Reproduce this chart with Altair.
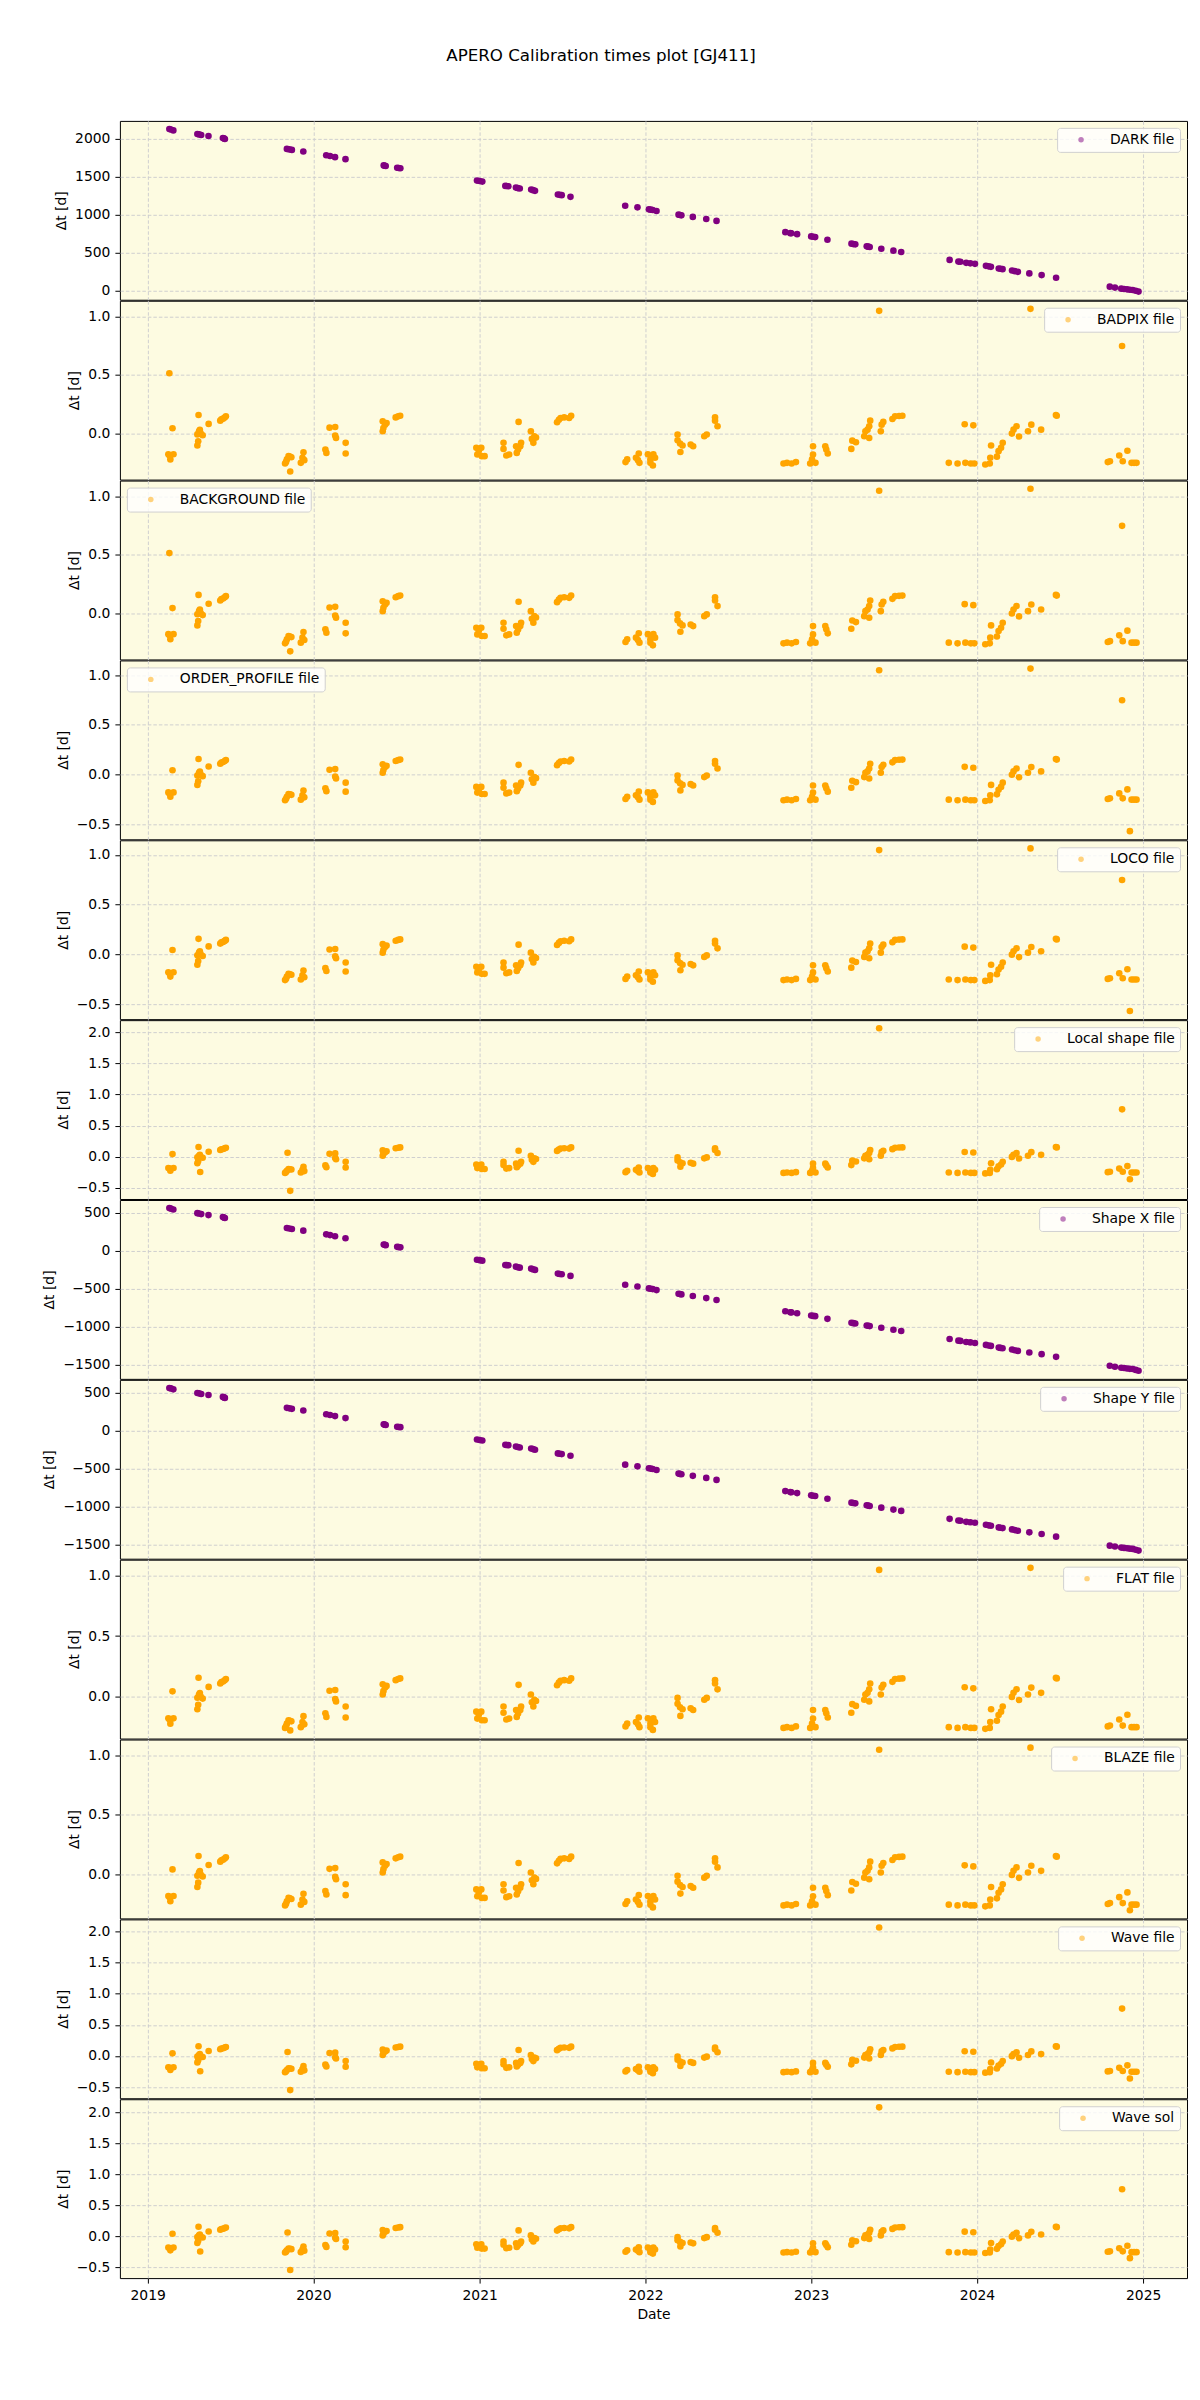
import altair as alt
import pandas as pd

TITLE = "APERO Calibration times plot [GJ411]"
Y_TITLE = "Δt [d]"
X_TITLE = "Date"
YEAR_TICKS = [2019, 2020, 2021, 2022, 2023, 2024, 2025]

# ---- observation dates (decimal years) used by the DARK / Shape panels
cal_dates = [2019.131, 2019.140, 2019.155, 2019.300, 2019.310, 2019.323, 2019.367, 2019.454, 2019.460, 2019.466,
             2019.840, 2019.855, 2019.870, 2019.939, 2020.077, 2020.100, 2020.130, 2020.193,
             2020.423, 2020.429, 2020.435, 2020.504, 2020.513, 2020.523,
             2020.984, 2021.000, 2021.016, 2021.155, 2021.164, 2021.173, 2021.219, 2021.230, 2021.242,
             2021.311, 2021.322, 2021.334, 2021.472, 2021.483, 2021.495, 2021.548,
             2021.878, 2021.952, 2022.021, 2022.032, 2022.044, 2022.067, 2022.200, 2022.208, 2022.217,
             2022.286, 2022.367, 2022.429,
             2022.844, 2022.874, 2022.880, 2022.915, 2023.000, 2023.012, 2023.024, 2023.098,
             2023.243, 2023.254, 2023.266, 2023.335, 2023.344, 2023.353, 2023.423, 2023.496, 2023.543,
             2023.835, 2023.888, 2023.900, 2023.935, 2023.960, 2023.988, 2024.054, 2024.070, 2024.084,
             2024.131, 2024.142, 2024.154, 2024.211, 2024.228, 2024.246, 2024.315, 2024.389, 2024.476,
             2024.799, 2024.830, 2024.868, 2024.885, 2024.903, 2024.920, 2024.937, 2024.955, 2024.972]

dark_dt = [2131, 2125, 2113, 2065, 2060, 2052, 2039, 2013, 2007, 2000,
           1869, 1862, 1856, 1834, 1785, 1775, 1760, 1734,
           1651, 1647, 1643, 1620, 1617, 1614,
           1451, 1445, 1438, 1381, 1379, 1377, 1359, 1352, 1346,
           1333, 1325, 1316, 1268, 1263, 1259, 1237,
           1120, 1098, 1072, 1068, 1063, 1050, 1002, 998, 993,
           972, 945, 919,
           771, 758, 756, 745, 715, 710, 706, 671,
           619, 614, 610, 584, 580, 575, 553, 527, 510,
           405, 383, 380, 366, 360, 353, 327, 320, 314,
           292, 288, 283, 266, 257, 248, 227, 205, 170,
           52, 40, 26, 22, 17, 12, 9, -2, -13]

shape_dt = [561, 555, 543, 495, 490, 482, 469, 443, 437, 430,
            299, 292, 286, 264, 215, 205, 190, 164,
            81, 77, 73, 50, 47, 44,
            -119, -125, -132, -189, -191, -193, -211, -218, -224,
            -237, -245, -254, -302, -307, -311, -333,
            -450, -472, -498, -502, -507, -520, -568, -572, -577,
            -598, -625, -651,
            -799, -812, -814, -825, -855, -860, -864, -899,
            -951, -956, -960, -986, -990, -995, -1017, -1043, -1060,
            -1165, -1187, -1190, -1204, -1210, -1217, -1243, -1250, -1256,
            -1278, -1282, -1287, -1304, -1313, -1322, -1343, -1365, -1400,
            -1518, -1530, -1544, -1548, -1553, -1558, -1561, -1572, -1583]

# ---- night calibrations (common to the orange panels)
night_dates = [2019.125, 2019.137, 2019.156, 2019.132, 2019.150,
               2019.307, 2019.300, 2019.310, 2019.320, 2019.332, 2019.305, 2019.300, 2019.315,
               2019.368, 2019.438, 2019.445, 2019.455, 2019.465, 2019.472,
               2019.829, 2019.840, 2019.850, 2019.867, 2019.835, 2019.858,
               2019.924, 2019.934, 2019.940, 2019.945,
               2020.072, 2020.078, 2020.097, 2020.131, 2020.131, 2020.136, 2020.194, 2020.194,
               2020.417, 2020.431, 2020.417, 2020.421, 2020.440, 2020.495, 2020.510, 2020.522,
               2020.980, 2021.010, 2020.986, 2021.013, 2021.030, 2020.995,
               2021.144, 2021.144, 2021.161, 2021.178,
               2021.235, 2021.220, 2021.224, 2021.245, 2021.250, 2021.232,
               2021.309, 2021.315, 2021.330, 2021.324, 2021.340,
               2021.467, 2021.478, 2021.488, 2021.510, 2021.540, 2021.552,
               2021.880, 2021.890, 2021.943, 2021.960, 2021.964, 2021.955,
               2022.015, 2022.030, 2022.040, 2022.048, 2022.045, 2022.030, 2022.058,
               2022.194, 2022.194, 2022.209, 2022.224, 2022.211,
               2022.273, 2022.288, 2022.355, 2022.370, 2022.420, 2022.420, 2022.435,
               2022.833, 2022.854, 2022.882, 2022.908,
               2022.994, 2023.005, 2023.011, 2023.011, 2023.026,
               2023.085, 2023.091, 2023.100,
               2023.242, 2023.248, 2023.270,
               2023.320, 2023.327, 2023.340, 2023.350, 2023.356, 2023.350,
               2023.420, 2023.425, 2023.435, 2023.490, 2023.506, 2023.530, 2023.550,
               2023.830, 2023.883, 2023.930, 2023.963, 2023.984, 2023.926, 2023.978,
               2024.050, 2024.077, 2024.080, 2024.085,
               2024.120, 2024.130, 2024.145, 2024.155,
               2024.210, 2024.220, 2024.238, 2024.253,
               2024.307, 2024.327, 2024.386, 2024.475, 2024.480,
               2024.787, 2024.800, 2024.856, 2024.877, 2024.905, 2024.930, 2024.945, 2024.960]

night_dt = [-0.180, -0.224, -0.180, -0.190, 0.043,
            0.156, -0.010, 0.017, 0.000, -0.017, -0.068, -0.105, 0.030,
            0.080, 0.108, 0.120, 0.125, 0.135, 0.145,
            -0.259, -0.224, -0.196, -0.205, -0.245, -0.200,
            -0.253, -0.210, -0.162, -0.230,
            -0.139, -0.168, 0.048, 0.054, -0.020, -0.040, -0.082, -0.173,
            0.102, 0.074, 0.017, 0.045, 0.088, 0.136, 0.145, 0.150,
            -0.125, -0.125, -0.182, -0.196, -0.196, -0.150,
            -0.082, -0.134, -0.190, -0.182,
            0.097, -0.111, -0.168, -0.111, -0.082, -0.140,
            0.017, -0.048, -0.026, -0.082, -0.037,
            0.094, 0.115, 0.131, 0.136, 0.131, 0.150,
            -0.247, -0.224, -0.210, -0.173, -0.253, -0.230,
            -0.180, -0.224, -0.196, -0.180, -0.276, -0.253, -0.210,
            -0.011, -0.060, -0.088, -0.105, -0.160,
            -0.097, -0.111, -0.026, -0.011, 0.136, 0.108, 0.060,
            -0.259, -0.253, -0.259, -0.247,
            -0.259, -0.224, -0.182, -0.111, -0.253,
            -0.111, -0.139, -0.173,
            -0.134, -0.063, -0.077,
            -0.026, 0.017, 0.031, 0.060, 0.108, -0.040,
            0.017, 0.074, 0.097, 0.122, 0.145, 0.148, 0.150,
            -0.253, -0.259, -0.253, -0.259, -0.259, 0.077, 0.068,
            -0.267, -0.259, -0.210, -0.105,
            -0.200, -0.153, -0.125, -0.082,
            -0.003, 0.031, 0.060, -0.028,
            0.017, 0.074, 0.031, 0.156, 0.150,
            -0.247, -0.240, -0.190, -0.240, -0.150, -0.253, -0.253, -0.253]

# ---- panel-specific extra points (outliers)
badpix_extra_dates = [2019.131, 2019.860, 2023.410, 2024.322, 2024.873]
badpix_extra_dt = [0.514, -0.327, 1.048, 1.065, 0.747]
order_extra_dates = [2023.410, 2024.322, 2024.873, 2024.920]
order_extra_dt = [1.048, 1.065, 0.747, -0.570]
shape_local_extra_dates = [2019.317, 2019.844, 2019.860, 2023.410, 2024.873, 2024.920]
shape_local_extra_dt = [-0.244, 0.064, -0.547, 2.060, 0.760, -0.360]
wave_sol_extra_dates = [2019.317, 2019.844, 2019.860, 2023.410, 2024.873, 2024.920]
wave_sol_extra_dt = [-0.243, 0.063, -0.540, 2.080, 0.760, -0.350]
flat_extra_dates = [2019.860, 2023.410, 2024.322]
flat_extra_dt = [-0.280, 1.048, 1.065]
blaze_extra_dates = [2023.410, 2024.322, 2024.920]
blaze_extra_dt = [1.048, 1.065, -0.300]

labels = ["DARK file", "BADPIX file", "BACKGROUND file", "ORDER_PROFILE file", "LOCO file",
          "Local shape file", "Shape X file", "Shape Y file", "FLAT file", "BLAZE file",
          "Wave file", "Wave sol"]
colors = ["purple", "orange", "orange", "orange", "orange", "orange",
          "purple", "purple", "orange", "orange", "orange", "orange"]
legend_orients = ["top-right", "top-right", "top-left", "top-left", "top-right", "top-right",
                  "top-right", "top-right", "top-right", "top-right", "top-right", "top-right"]
TK_DARK = [0, 500, 1000, 1500, 2000]
TK_SMALL = [0.0, 0.5, 1.0]
TK_MID = [-0.5, 0.0, 0.5, 1.0]
TK_WIDE = [-0.5, 0.0, 0.5, 1.0, 1.5, 2.0]
TK_SHAPE = [-1500, -1000, -500, 0, 500]
y_ticks = [TK_DARK, TK_SMALL, TK_SMALL, TK_MID, TK_MID, TK_WIDE, TK_SHAPE, TK_SHAPE,
           TK_SMALL, TK_SMALL, TK_WIDE, TK_WIDE]
y_formats = ["d", ".1f", ".1f", ".1f", ".1f", ".1f", "d", "d", ".1f", ".1f", ".1f", ".1f"]

panel_data = [
    (cal_dates, dark_dt),
    (night_dates + badpix_extra_dates, night_dt + badpix_extra_dt),
    (night_dates + badpix_extra_dates, night_dt + badpix_extra_dt),
    (night_dates + order_extra_dates, night_dt + order_extra_dt),
    (night_dates + order_extra_dates, night_dt + order_extra_dt),
    (night_dates + shape_local_extra_dates, night_dt + shape_local_extra_dt),
    (cal_dates, shape_dt),
    (cal_dates, shape_dt),
    (night_dates + flat_extra_dates, night_dt + flat_extra_dt),
    (night_dates + blaze_extra_dates, night_dt + blaze_extra_dt),
    (night_dates + shape_local_extra_dates, night_dt + shape_local_extra_dt),
    (night_dates + wave_sol_extra_dates, night_dt + wave_sol_extra_dt),
]


def to_ts(y):
    yr = int(y)
    start = pd.Timestamp(year=yr, month=1, day=1)
    end = pd.Timestamp(year=yr + 1, month=1, day=1)
    return (start + (end - start) * (y - yr)).round("min")


def to_dt(ts):
    return alt.DateTime(year=ts.year, month=ts.month, date=ts.day, hours=ts.hour, minutes=ts.minute)


all_dates = [d for ds, _ in panel_data for d in ds]
xmin, xmax = min(all_dates), max(all_dates)
xr = xmax - xmin
x_domain = [to_dt(to_ts(xmin - 0.05 * xr)), to_dt(to_ts(xmax + 0.05 * xr))]
x_values = [alt.DateTime(year=y, month=1, date=1) for y in YEAR_TICKS]

FONT = "DejaVu Sans"
BG = "#fdfbe1"
GRID = "#cfcfcf"
W, H = 1068, 179

charts = []
n = len(labels)
for i in range(n):
    ds, vs = panel_data[i]
    df = pd.DataFrame({"date": [to_ts(d) for d in ds], "dt": vs, "label": labels[i]})
    lo, hi = min(vs), max(vs)
    r = hi - lo
    y_dom = [lo - 0.05 * r, hi + 0.05 * r]
    last = i == n - 1
    x_axis = alt.Axis(values=x_values, format="%Y", grid=True, gridDash=[3.5, 2], gridColor=GRID,
                      labels=last, ticks=last, domain=False,
                      title=X_TITLE if last else None)
    ch = alt.Chart(df).mark_circle(size=44, opacity=1, clip=True).encode(
        x=alt.X("date:T", scale=alt.Scale(domain=x_domain), axis=x_axis),
        y=alt.Y("dt:Q", scale=alt.Scale(domain=y_dom, nice=False, zero=False),
                axis=alt.Axis(values=y_ticks[i], format=y_formats[i], title=Y_TITLE, grid=True,
                              gridDash=[3.5, 2], gridColor=GRID, domain=False)),
        color=alt.Color("label:N", scale=alt.Scale(domain=[labels[i]], range=[colors[i]]),
                        legend=alt.Legend(title=None, orient=legend_orients[i], offset=7,
                                          fillColor="rgba(255,255,255,0.8)", strokeColor="#d0d0d0",
                                          cornerRadius=3, padding=5, labelFont=FONT, labelFontSize=13.9,
                                          symbolType="circle", symbolSize=30, symbolOpacity=0.5,
                                          symbolOffset=12, labelOffset=22)),
    ).properties(width=W, height=H)
    charts.append(ch)

chart = alt.vconcat(*charts, spacing=-2).resolve_scale(
    color="independent", y="independent"
).resolve_legend(color="independent").properties(
    title=alt.TitleParams(TITLE, fontSize=16.7, font=FONT, fontWeight="normal", anchor="middle",
                          offset=56, dx=-14, color="black"),
    padding={"left": 42, "top": 46, "right": 12, "bottom": 60},
).configure_view(
    fill=BG, stroke="black", strokeWidth=1
).configure_axis(
    labelFont=FONT, labelFontSize=13.9, labelColor="black", tickColor="black", tickSize=5,
    labelPadding=5, titleFont=FONT, titleFontSize=13.9, titleFontWeight="normal",
    titleColor="black", titlePadding=6, gridWidth=1
)

chart.save("out.html", embed_options={"renderer": "svg", "actions": False})
